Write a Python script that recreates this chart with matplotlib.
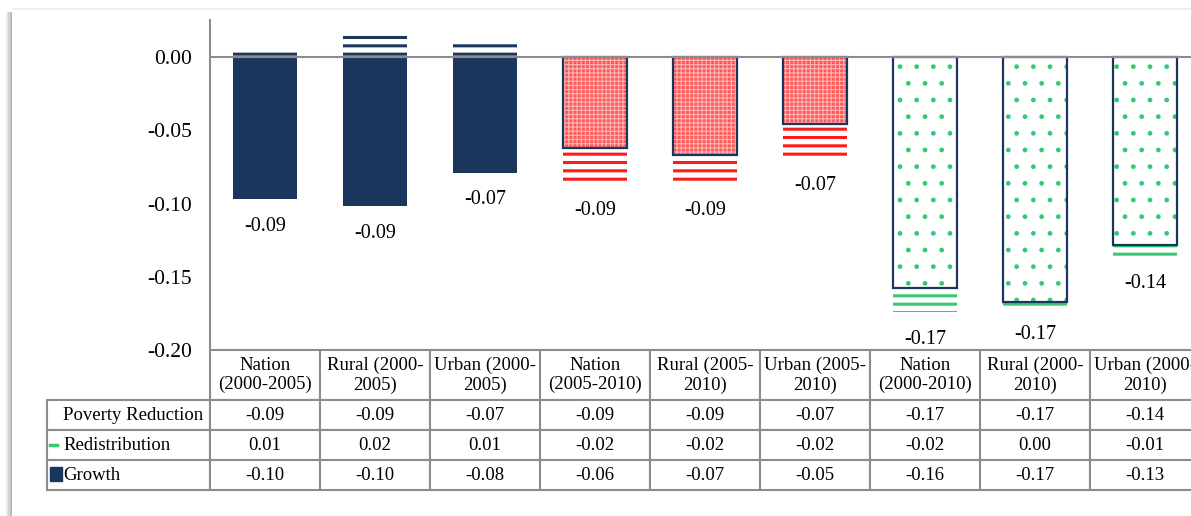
import matplotlib
matplotlib.use("Agg")
import matplotlib.pyplot as plt
import numpy as np
from matplotlib.table import Table
from matplotlib.patches import Rectangle
from matplotlib.lines import Line2D

plt.rcParams['font.family'] = ['Liberation Serif', 'DejaVu Serif']

# data
categories = ["Nation\n(2000-2005)", "Rural (2000-\n2005)", "Urban (2000-\n2005)",
              "Nation\n(2005-2010)", "Rural (2005-\n2010)", "Urban (2005-\n2010)",
              "Nation\n(2000-2010)", "Rural (2000-\n2010)", "Urban (2000-\n2010)"]
growth = [-0.097, -0.102, -0.079, -0.062, -0.067, -0.046, -0.158, -0.167, -0.128]
redistribution = [0.006, 0.016, 0.011, -0.024, -0.019, -0.023, -0.016, -0.004, -0.008]
row_names = ["Poverty Reduction", "Redistribution", "Growth"]

navy = '#1b365d'
red = '#ff1a1a'
green = '#36c972'
grid_gray = '#8c8c8c'

growth = np.array(growth)
redistribution = np.array(redistribution)
poverty = growth + redistribution


def fmt(v):
    s = "{:.2f}".format(v)
    return "0.00" if s == "-0.00" else s


W, H = 1191, 516
fig = plt.figure(figsize=(W / 100, H / 100), dpi=100)
ax = fig.add_axes([210 / W, 1 - 350 / H, 990 / W, 330 / H])

x = np.arange(len(categories))
bw = 0.573
group = [0, 0, 0, 1, 1, 1, 2, 2, 2]

plt.rcParams['hatch.linewidth'] = 2.2
r_bottom = np.where(redistribution >= 0, 0, growth)
r_colors = [navy, red, green]
for i in x:
    ax.bar(x[i], redistribution[i], bw, bottom=r_bottom[i], color='white',
           edgecolor=r_colors[group[i]], linewidth=0, hatch='--', zorder=2)

for i in x:
    g = group[i]
    if g == 0:
        ax.bar(x[i], growth[i], bw, color=navy, linewidth=0, zorder=2)
    elif g == 1:
        plt.rcParams['hatch.linewidth'] = 0.8
        ax.bar(x[i], growth[i], bw, color='#ff5a5a', edgecolor='#ffb4b4',
               linewidth=0, hatch='++++', zorder=2)
        ax.bar(x[i], growth[i], bw, fill=False, edgecolor=navy, linewidth=1.6, zorder=3)
    else:
        plt.rcParams['hatch.linewidth'] = 1.0
        ax.bar(x[i], growth[i], bw, color='white', edgecolor=green,
               linewidth=0, hatch='.', zorder=2)
        ax.bar(x[i], growth[i], bw, fill=False, edgecolor=navy, linewidth=1.6, zorder=3)

# poverty reduction labels below each stack
stack_bottom = np.minimum(growth, growth + np.minimum(redistribution, 0))
for i in x:
    ax.annotate(fmt(poverty[i]), (x[i], stack_bottom[i]), xytext=(0, -19.5),
                textcoords='offset points', ha='center', va='center', fontsize=14.5)

ax.axhline(0, color=grid_gray, linewidth=1.5, zorder=4)
ax.set_xlim(-0.5, len(categories) - 0.5)
ax.set_ylim(-0.20, 0.0253)
ax.set_yticks([0.0, -0.05, -0.10, -0.15, -0.20])
ax.set_yticklabels([fmt(v) for v in [0.0, -0.05, -0.10, -0.15, -0.20]], fontsize=15.5)
ax.tick_params(axis='y', length=0, pad=13)
ax.set_xticks([])
for s in ['top', 'right', 'bottom']:
    ax.spines[s].set_visible(False)
ax.spines['left'].set_color(grid_gray)
ax.spines['left'].set_linewidth(1.5)

# data table under the plot
tb = Table(ax, bbox=[-163 / 990, -140 / 330, 1153 / 990, 140 / 330])
col_w = [163] + [110] * len(categories)
row_h = [50, 30, 30, 30]
table_rows = [[fmt(v) for v in poverty],
              [fmt(v) for v in redistribution],
              [fmt(v) for v in growth]]
for c in range(len(col_w)):
    txt = '' if c == 0 else categories[c - 1]
    cell = tb.add_cell(0, c, width=col_w[c], height=row_h[0], text=txt, loc='center',
                       edgecolor=grid_gray)
    if c == 0:
        cell.visible_edges = ''
for r in range(3):
    tb.add_cell(r + 1, 0, width=col_w[0], height=row_h[r + 1], text=row_names[r],
                loc='left', edgecolor=grid_gray)
    for c in range(len(categories)):
        tb.add_cell(r + 1, c + 1, width=col_w[c + 1], height=row_h[r + 1],
                    text=table_rows[r][c], loc='center', edgecolor=grid_gray)
tb.auto_set_font_size(False)
tb.set_fontsize(13.5)
for cell in tb.get_celld().values():
    cell.set_linewidth(1.5)
ax.add_table(tb)

# legend keys inside the table row labels
fig.add_artist(Line2D([50 / W, 57 / W], [1 - 445 / H, 1 - 445 / H], color=green,
                      linewidth=2.5, transform=fig.transFigure))
fig.add_artist(Rectangle((50 / W, 1 - 481 / H), 12 / W, 14 / H, color=navy,
                         transform=fig.transFigure))

# frame shadow on the left and top
for k, a in enumerate([0.08, 0.15, 0.25, 0.35, 0.45]):
    fig.add_artist(Rectangle(((6 + k * 1.2) / W, 0), 1.2 / W, 1 - 12 / H,
                             color='#555555', alpha=a, linewidth=0,
                             transform=fig.transFigure))
fig.add_artist(Rectangle((12 / W, 1 - 10 / H), 1 - 12 / W, 2 / H, color='#eeeeee',
                         linewidth=0, transform=fig.transFigure))

fig.savefig("out.png", dpi=100)
